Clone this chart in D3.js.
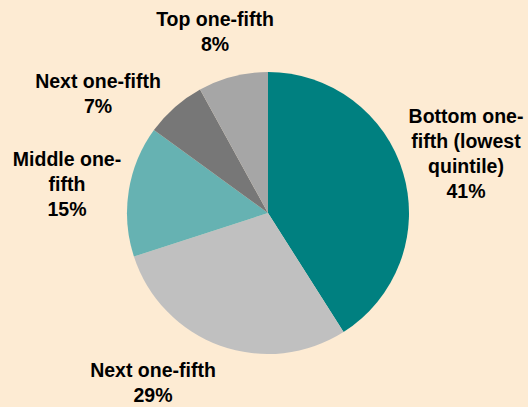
<!DOCTYPE html>
<html>
<head>
<meta charset="utf-8">
<script src="https://cdn.jsdelivr.net/npm/d3@7"></script>
<style>
  html, body { margin: 0; padding: 0; background: #FDEBD3; }
  svg { display: block; }
  text { font-family: "Liberation Sans", Arial, sans-serif; font-weight: bold; fill: #000; }
</style>
</head>
<body>
<svg id="chart" width="528" height="407"></svg>
<script>
// Data (clockwise from 12 o'clock)
const categories = [
  ["Bottom one-", "fifth (lowest", "quintile)"],
  ["Next one-fifth"],
  ["Middle one-", "fifth"],
  ["Next one-fifth"],
  ["Top one-fifth"]
];
const shares = [41, 29, 15, 7, 8];
const colors = ["#008080", "#C0C0C0", "#66B2B2", "#777777", "#A6A6A6"];

// Label layout (center x, first baseline y)
const labelPos = [
  [466, 123], [153, 377], [67, 166], [98, 88], [215, 26]
];

const W = 528, H = 407;
const cx = 268, cy = 213, R = 141;
const svg = d3.select("#chart");
svg.append("rect").attr("width", W).attr("height", H).attr("fill", "#FDEBD3");

const pie = d3.pie().sort(null).value(d => d);
const arcs = pie(shares);
const arc = d3.arc().innerRadius(0).outerRadius(R);

const g = svg.append("g").attr("transform", `translate(${cx},${cy})`);
g.selectAll("path").data(arcs).join("path")
  .attr("d", arc)
  .attr("fill", (d, i) => colors[i]);

const lh = 25;
arcs.forEach((d, i) => {
  const lines = categories[i].concat([shares[i] + "%"]);
  const t = svg.append("text")
    .attr("text-anchor", "middle")
    .attr("font-size", 19.5);
  lines.forEach((ln, j) => {
    t.append("tspan")
      .attr("x", labelPos[i][0])
      .attr("y", labelPos[i][1] + j * lh)
      .text(ln);
  });
});
</script>
</body>
</html>
